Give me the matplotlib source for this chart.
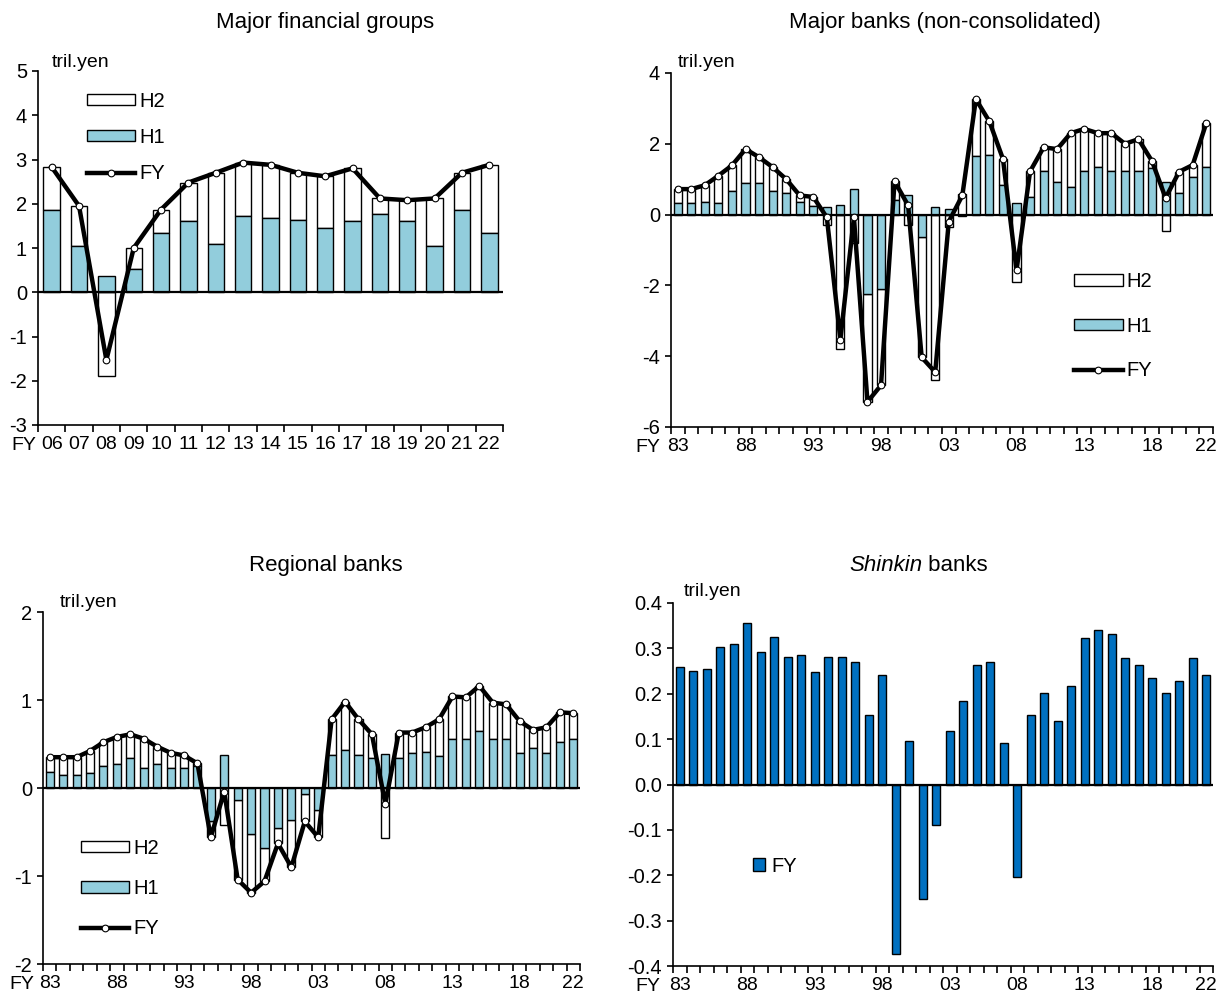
import matplotlib
matplotlib.use('Agg')
import matplotlib.pyplot as plt
import numpy as np
from matplotlib.ticker import FixedLocator, FormatStrFormatter

plt.rcParams['font.family'] = ['Liberation Sans', 'DejaVu Sans']
plt.rcParams['font.size'] = 13
plt.rcParams['axes.unicode_minus'] = False

LIGHT = '#92CDDC'
DARK = '#0070C0'

# ---- data (tril. yen) ----
# Major financial groups, FY06-22
mfg_years = ['06', '07', '08', '09', '10', '11', '12', '13', '14', '15', '16',
             '17', '18', '19', '20', '21', '22']
mfg_h1 = [1.85, 1.05, 0.37, 0.52, 1.33, 1.60, 1.10, 1.73, 1.68, 1.63, 1.45,
          1.60, 1.77, 1.60, 1.05, 1.87, 1.33]
mfg_fy = [2.83, 1.95, -1.53, 1.00, 1.87, 2.48, 2.70, 2.93, 2.88, 2.70, 2.62,
          2.80, 2.12, 2.08, 2.12, 2.70, 2.88]

# FY83-22 for the long series
long_years = [str(y % 100).zfill(2) for y in range(1983, 2023)]
long_ticks = ['83', '88', '93', '98', '03', '08', '13', '18', '22']

# Major banks (non-consolidated)
mb_h1 = [0.32, 0.32, 0.37, 0.32, 0.66, 0.89, 0.89, 0.66, 0.60, 0.37,
         0.25, 0.21, 0.28, 0.73, -2.23, -2.10, 0.40, 0.55, -0.62, 0.21,
         0.15, -0.05, 1.66, 1.68, 0.84, 0.32, 0.49, 1.22, 0.93, 0.79,
         1.22, 1.34, 1.22, 1.22, 1.22, 1.31, 0.93, 0.60, 1.06, 1.34]
mb_fy = [0.72, 0.72, 0.83, 1.10, 1.39, 1.85, 1.62, 1.34, 1.00, 0.54,
         0.50, -0.08, -3.53, -0.08, -5.29, -4.82, 0.94, 0.26, -4.03, -4.45,
         -0.20, 0.54, 3.26, 2.63, 1.57, -1.57, 1.22, 1.90, 1.85, 2.30,
         2.42, 2.30, 2.30, 2.00, 2.13, 1.51, 0.47, 1.21, 1.40, 2.58]

# Regional banks
rb_h1 = [0.18, 0.15, 0.15, 0.17, 0.25, 0.27, 0.34, 0.23, 0.27, 0.23,
         0.23, 0.25, -0.38, 0.38, -0.14, -0.52, -0.68, -0.46, -0.36, -0.07,
         -0.25, 0.38, 0.43, 0.38, 0.34, 0.39, 0.34, 0.40, 0.41, 0.36,
         0.56, 0.56, 0.65, 0.56, 0.56, 0.40, 0.45, 0.40, 0.52, 0.56]
rb_fy = [0.35, 0.35, 0.35, 0.42, 0.52, 0.58, 0.61, 0.56, 0.47, 0.40,
         0.37, 0.28, -0.56, -0.04, -1.04, -1.19, -1.06, -0.63, -0.90, -0.38,
         -0.56, 0.78, 0.98, 0.78, 0.61, -0.18, 0.63, 0.63, 0.69, 0.78,
         1.04, 1.03, 1.16, 0.97, 0.95, 0.76, 0.66, 0.69, 0.86, 0.85]

# Shinkin banks
sk_fy = [0.260, 0.251, 0.255, 0.304, 0.309, 0.357, 0.291, 0.326, 0.281, 0.286,
         0.247, 0.281, 0.281, 0.269, 0.154, 0.242, -0.373, 0.096, -0.253, -0.090,
         0.118, 0.185, 0.264, 0.269, 0.092, -0.204, 0.154, 0.202, 0.140, 0.216,
         0.322, 0.340, 0.331, 0.278, 0.264, 0.234, 0.202, 0.229, 0.278, 0.242]

W, H = 1229, 1006
fig = plt.figure(figsize=(W / 100, H / 100), dpi=100)


def px_axes(left, top, right, bottom):
    return fig.add_axes([left / W, 1 - bottom / H, (right - left) / W, (bottom - top) / H])


def style_axes(ax, n, labels, shown, ylim, yticks, fmt=None):
    ax.set_xlim(-0.5, n - 0.5)
    ax.set_ylim(*ylim)
    ax.spines['top'].set_visible(False)
    ax.spines['right'].set_visible(False)
    ax.spines['left'].set_linewidth(1.2)
    ax.spines['bottom'].set_linewidth(1.2)
    ax.axhline(0, color='black', lw=1.6, zorder=3)
    ax.set_yticks(yticks)
    if fmt:
        ax.yaxis.set_major_formatter(FormatStrFormatter(fmt))
    ax.tick_params(axis='y', direction='out', length=4, width=1.2, pad=4, labelsize=14.5)
    pos = [i for i, lab in enumerate(labels) if lab in shown]
    ax.set_xticks(pos)
    ax.set_xticklabels([labels[i] for i in pos])
    ax.xaxis.set_minor_locator(FixedLocator(np.arange(-0.5, n, 1.0)))
    ax.tick_params(axis='x', which='major', length=0, pad=8, labelsize=14)
    ax.tick_params(axis='x', which='minor', direction='out', length=5, width=1.2)


def halves(ax, h1, fy):
    h1 = np.array(h1)
    h2 = np.array(fy) - h1
    x = np.arange(len(h1))
    base = np.where(np.sign(h2) == np.sign(h1), h1, 0.0)
    b2 = ax.bar(x, h2, bottom=base, width=0.6, color='white', edgecolor='black', lw=1.0, zorder=2)
    b1 = ax.bar(x, h1, width=0.6, color=LIGHT, edgecolor='black', lw=1.0, zorder=2)
    ln, = ax.plot(x, fy, color='black', lw=3.2, marker='o', ms=4.8,
                  mfc='white', mec='black', mew=0.8, zorder=4)
    return b2, b1, ln


def legend3(ax, handles, anchor, spacing):
    ax.legend(handles, ['H2', 'H1', 'FY'], loc='upper left', bbox_to_anchor=anchor,
              frameon=False, handlelength=2.4, handleheight=0.5, labelspacing=spacing,
              handletextpad=0.2, borderpad=0, borderaxespad=0, numpoints=1, fontsize=14.5)


# Panel 1
ax1 = px_axes(38, 71, 503, 425)
hs = halves(ax1, mfg_h1, mfg_fy)
style_axes(ax1, len(mfg_years), mfg_years, mfg_years, (-3, 5), range(-3, 6))
legend3(ax1, hs, (0.105, 0.942), 0.86)

# Panel 2
ax2 = px_axes(671, 73, 1213, 427)
hs = halves(ax2, mb_h1, mb_fy)
style_axes(ax2, 40, long_years, long_ticks, (-6, 4), range(-6, 5, 2))
legend3(ax2, hs, (0.744, 0.438), 1.27)

# Panel 3
ax3 = px_axes(43, 612, 580, 964)
hs = halves(ax3, rb_h1, rb_fy)
style_axes(ax3, 40, long_years, long_ticks, (-2, 2), range(-2, 3))
legend3(ax3, hs, (0.07, 0.356), 1.06)

# Panel 4
ax4 = px_axes(673, 603, 1213, 966)
bs = ax4.bar(np.arange(40), sk_fy, width=0.6, color=DARK, edgecolor='black', lw=1.0, zorder=2)
style_axes(ax4, 40, long_years, long_ticks, (-0.4, 0.4),
           np.round(np.arange(-0.4, 0.41, 0.1), 1) + 0.0, fmt='%.1f')
ax4.legend([bs], ['FY'], loc='center left', bbox_to_anchor=(0.148, 0.275), frameon=False,
           handlelength=0.6, handleheight=0.6, handletextpad=0.3, borderpad=0,
           borderaxespad=0, fontsize=14.5)

# unit labels and FY prefixes
for ax, ux, uy, fx in [(ax1, 0.03, 1.025, -0.004), (ax2, 0.013, 1.03, -0.02),
                       (ax3, 0.031, 1.026, -0.017), (ax4, 0.019, 1.031, -0.023)]:
    ax.text(ux, uy, 'tril.yen', transform=ax.transAxes, ha='left', va='center', fontsize=14)
    ax.text(fx, -0.058 * 354 / (ax.bbox.height), 'FY', transform=ax.transAxes,
            ha='right', va='center', fontsize=14)

# titles
TS = 16
fig.text(325 / W, 1 - 28 / H, 'Major financial groups', ha='center', va='baseline', fontsize=TS)
fig.text(945 / W, 1 - 28 / H, 'Major banks (non-consolidated)', ha='center', va='baseline', fontsize=TS)
fig.text(326 / W, 1 - 571 / H, 'Regional banks', ha='center', va='baseline', fontsize=TS)
fig.text(922 / W, 1 - 571 / H, 'Shinkin', ha='right', va='baseline', fontsize=TS, style='italic')
fig.text(922 / W, 1 - 571 / H, ' banks', ha='left', va='baseline', fontsize=TS)

fig.savefig('out.png', dpi=100)
